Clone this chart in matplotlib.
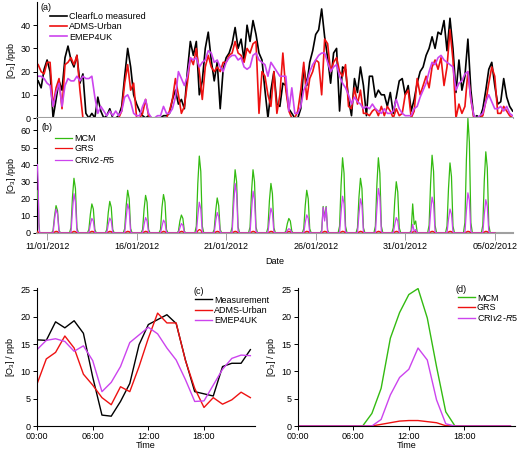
import numpy as np
import pandas as pd
import matplotlib.pyplot as plt
import matplotlib.dates as mdates

plt.rcParams['font.family'] = ['Liberation Sans', 'DejaVu Sans']
plt.rcParams['mathtext.fontset'] = 'custom'
plt.rcParams['mathtext.rm'] = 'Liberation Sans'
plt.rcParams['mathtext.it'] = 'Liberation Sans:italic'
plt.rcParams['font.size'] = 6.5

BLACK = '#000000'
RED = '#ee1111'
MAGENTA = '#cc44ee'
GREEN = '#33bb11'
GREY = '#a0a0a0'

# (a) 4-hourly ozone, starting 10/01/2012 12:00
start_a = '2012-01-10 12:00'
measured = [16, 13, 21, 25, 20, 0, 8, 16, 12, 26, 31, 25, 22, 27, 15, 19, 2, 0, 2, 0,
            9, 3, 0, 1, 4, 0, 0, 1, 5, 18, 30, 22, 10, 6, 3, 1, 0, 1, 0, 0,
            0, 0, 1, 1, 2, 8, 12, 6, 8, 4, 20, 33, 27, 33, 10, 16, 30, 37, 25, 16,
            24, 4, 21, 26, 28, 32, 39, 30, 34, 25, 40, 33, 42, 36, 28, 25, 12, 0, 12, 20,
            6, 5, 15, 14, 4, 2, 0, 0, 4, 22, 14, 24, 29, 36, 38, 47, 35, 26, 15, 28,
            30, 3, 22, 21, 8, 1, 17, 11, 22, 14, 1, 18, 18, 9, 12, 10, 10, 5, 11, 2,
            9, 16, 17, 10, 14, 3, 8, 15, 20, 22, 27, 30, 35, 30, 37, 36, 42, 29, 43, 30,
            11, 25, 12, 18, 34, 12, 0, 1, 0, 4, 12, 21, 24, 14, 6, 7, 17, 9, 5, 3]
adms = [23, 20, 19, 24, 24, 5, 13, 17, 4, 23, 24, 26, 23, 27, 12, 0, 0, 0, 0, 0,
        0, 0, 0, 0, 0, 0, 0, 0, 3, 15, 23, 12, 15, 0, 0, 2, 8, 1, 0, 0,
        0, 0, 0, 0, 3, 8, 17, 10, 2, 5, 15, 26, 23, 30, 20, 8, 22, 27, 22, 20,
        22, 20, 24, 24, 27, 28, 33, 28, 27, 24, 30, 28, 32, 33, 2, 20, 18, 10, 5, 20,
        2, 10, 28, 12, 3, 0, 0, 3, 12, 24, 8, 17, 20, 25, 24, 10, 34, 32, 20, 24,
        26, 20, 18, 23, 5, 4, 13, 6, 12, 2, 2, 1, 3, 4, 1, 5, 1, 5, 3, 0,
        4, 1, 2, 10, 12, 0, 3, 17, 10, 14, 18, 13, 22, 25, 21, 26, 14, 22, 38, 25,
        0, 6, 2, 5, 20, 8, 0, 0, 0, 1, 7, 15, 22, 18, 2, 2, 5, 3, 1, 0]
emep = [18, 18, 17, 15, 14, 5, 11, 15, 5, 14, 17, 16, 16, 18, 16, 18, 17, 17, 18, 9,
        2, 5, 3, 1, 3, 1, 3, 1, 3, 9, 10, 7, 2, 1, 1, 5, 8, 2, 0, 0,
        1, 1, 5, 2, 2, 4, 9, 20, 17, 14, 18, 26, 25, 26, 22, 24, 25, 29, 28, 24,
        25, 22, 20, 24, 26, 27, 27, 25, 26, 22, 21, 22, 27, 28, 25, 24, 23, 18, 24, 22,
        20, 18, 18, 18, 3, 13, 2, 2, 5, 12, 15, 20, 23, 25, 27, 28, 28, 24, 20, 22,
        23, 18, 15, 13, 10, 6, 9, 7, 6, 4, 5, 4, 6, 4, 3, 2, 4, 2, 2, 3,
        8, 4, 2, 1, 1, 1, 4, 5, 9, 12, 15, 20, 24, 23, 26, 27, 25, 24, 23, 22,
        12, 15, 16, 19, 20, 8, 1, 0, 1, 2, 7, 10, 7, 4, 4, 5, 3, 5, 2, 1]

# (b) model start-up on 10/01 (hours), then daytime values 08,10,12,14,16 h per day
spin_hours = [11, 12, 13, 14]
mcm_spin = [20, 25, 6, 0]
grs_spin = [1, 0.5, 0, 0]
cri_spin = [40, 30, 5, 0]
day_hours = [8, 10, 12, 14, 16]
days_b = pd.date_range('2012-01-11', '2012-02-04', freq='D')
mcm_day = [[1.5, 10, 16, 13, 1.5], [3, 21, 32, 26, 3], [2, 11, 17, 14, 2],
           [2, 12, 18.5, 15, 2], [2.5, 16, 25, 20, 2.5], [2, 14, 22, 18, 2],
           [2, 15, 22.5, 18, 2], [1, 7, 10.5, 8.5, 1], [4, 29, 45, 36, 4],
           [2, 13, 20.5, 16, 2], [3.5, 24, 37, 30, 3.5], [3.5, 24, 37, 30, 3.5],
           [3, 19, 29, 23, 3], [1, 5.5, 8.5, 7, 1], [2.5, 16, 25, 20, 2.5],
           [1.5, 15.5, 9, 15.5, 1.5], [4, 28, 44, 35, 4], [3, 21, 32, 26, 3],
           [4, 28, 44, 35, 4], [3, 19, 30, 24, 3], [1.5, 17, 5, 7, 0.5],
           [4.5, 29, 45.5, 36, 4.5], [4, 26, 41, 33, 4], [6, 43, 67, 53, 6],
           [4.5, 31, 47.5, 38, 4.5]]
grs_day = [[0, 0.6, 1, 0.8, 0]] * 8 + [[0, 1.2, 2, 1.6, 0]] + [[0, 0.6, 1, 0.8, 0]] * 16
cri_day = [[0, 8, 14, 11, 0.5], [0, 13, 23, 18, 1], [0, 5, 8.5, 7, 0.3],
           [0, 5, 8.7, 7, 0.3], [0, 9, 17, 13.5, 0.5], [0, 5, 9, 7, 0.3],
           [0, 4, 7.5, 6, 0.3], [0, 3, 5.5, 4.5, 0.2], [0, 10, 18, 14, 0.5],
           [0, 7, 12, 9.5, 0.4], [0, 16, 29, 23, 1], [0, 13, 24.5, 19.5, 1],
           [0, 8, 14.5, 11.5, 0.5], [0, 1.5, 2.5, 2, 0], [0, 6, 10.6, 8.5, 0.4],
           [0, 15, 7, 15, 0.5], [0, 12, 21.5, 17, 0.7], [0, 11, 20, 16, 0.7],
           [0, 14, 26, 21, 0.8], [0, 5, 9, 7, 0.3], [0, 5, 1, 2, 0],
           [0, 12, 21, 17, 0.7], [0, 8, 14, 11, 0.5], [0, 13, 23.5, 19, 0.8],
           [0, 11, 19.5, 15.5, 0.6]]

# (c), (d) mean diurnal cycles
hours = list(range(24))
meas_diurnal = [15.8, 15.7, 19.1, 18.0, 19.3, 17.0, 9.0, 2.0, 1.8, 4.5, 7.8, 14.9,
                18.6, 19.5, 20.4, 18.8, 12.1, 6.3, 5.9, 5.5, 10.9, 11.5, 11.5, 14.0]
adms_diurnal = [7.7, 12.3, 13.5, 16.5, 14.3, 9.5, 7.5, 5.2, 3.9, 7.2, 6.3, 10.9,
                16.1, 20.7, 18.9, 18.9, 12.0, 6.9, 3.4, 5.2, 4.0, 4.8, 6.2, 5.2]
emep_diurnal = [14.0, 15.7, 16.0, 15.5, 13.7, 14.7, 12.0, 6.3, 8.0, 10.9, 15.3, 16.7,
                18.1, 16.9, 14.3, 12.1, 8.5, 4.5, 4.6, 7.5, 10.4, 12.4, 13.0, 12.9]
mcm_diurnal = [0, 0, 0, 0, 0, 0, 0, 0, 2.3, 6.9, 16.1, 20.8,
               24.1, 25.2, 19.8, 10.9, 2.6, 0, 0, 0, 0, 0, 0, 0]
grs_diurnal = [0, 0, 0, 0, 0, 0, 0, 0, 0, 0.3, 0.6, 0.9,
               1.0, 1.0, 0.8, 0.6, 0.05, 0, 0, 0, 0, 0, 0, 0]
cri_diurnal = [0, 0, 0, 0, 0, 0, 0, 0, 0, 1.2, 5.7, 8.9,
               10.4, 14.3, 12.1, 4.8, 0.4, 0, 0, 0, 0, 0, 0, 0]


def build_series(spin, daily):
    t = [pd.Timestamp('2012-01-10') + pd.Timedelta(hours=h) for h in spin_hours]
    v = list(spin)
    for day, vals in zip(days_b, daily):
        t.append(day + pd.Timedelta(hours=6))
        v.append(0)
        for h, y in zip(day_hours, vals):
            t.append(day + pd.Timedelta(hours=h))
            v.append(y)
        t.append(day + pd.Timedelta(hours=18))
        v.append(0)
    t.append(pd.Timestamp('2012-02-05'))
    v.append(0)
    return t, v


def style_axes(ax, bottom_color):
    ax.spines['top'].set_visible(False)
    ax.spines['right'].set_visible(False)
    ax.spines['left'].set_linewidth(0.8)
    ax.spines['bottom'].set_color(bottom_color)
    ax.tick_params(direction='out', length=3, width=0.7, pad=1.5)


df_a = pd.DataFrame({'ClearfLo measured': measured, 'ADMS-Urban': adms, 'EMEP4UK': emep},
                    index=pd.date_range(start_a, periods=len(measured), freq='4h'))

fig = plt.figure(figsize=(5.2, 4.53), dpi=100)
ax_a = fig.add_axes([0.0712, 0.7395, 0.9154, 0.2561])
ax_b = fig.add_axes([0.0712, 0.4857, 0.9154, 0.2539])
ax_c = fig.add_axes([0.0712, 0.0596, 0.4192, 0.3046])
ax_d = fig.add_axes([0.5731, 0.0596, 0.4173, 0.3046])

xlim = (pd.Timestamp('2012-01-10 10:30'), pd.Timestamp('2012-02-06 00:30'))

# (a)
for col, c in zip(df_a.columns, [BLACK, RED, MAGENTA]):
    ax_a.plot(df_a.index, df_a[col], color=c, lw=1.2, label=col)
ax_a.set_xlim(xlim)
ax_a.set_ylim(0, 50)
ax_a.set_yticks([0, 10, 20, 30, 40])
style_axes(ax_a, GREY)
ax_a.spines['bottom'].set_linewidth(1.5)
ax_a.tick_params(axis='x', bottom=False, labelbottom=False)
ax_a.set_ylabel('[O$_3$] /ppb', labelpad=2)
ax_a.text(0.008, 0.95, '(a)', transform=ax_a.transAxes, va='center')
ax_a.legend(loc='upper left', bbox_to_anchor=(0.027, 0.915), frameon=False,
            handlelength=1.9, handletextpad=0.2, labelspacing=0.15,
            borderaxespad=0, borderpad=0)

# (b)
for (spin, daily), c, lab in zip([(mcm_spin, mcm_day), (grs_spin, grs_day), (cri_spin, cri_day)],
                                 [GREEN, RED, MAGENTA], ['MCM', 'GRS', 'CRI$\\it{v2}$-$\\it{R5}$']):
    t, v = build_series(spin, daily)
    ax_b.plot(t, v, color=c, lw=0.9, label=lab, zorder=3)
ax_b.set_xlim(xlim)
ax_b.set_ylim(0, 67.3)
ax_b.set_yticks([0, 10, 20, 30, 40, 50, 60])
style_axes(ax_b, GREY)
ax_b.spines['bottom'].set_linewidth(1.5)
ax_b.set_xticks(pd.date_range('2012-01-11', periods=6, freq='5D'))
ax_b.xaxis.set_major_formatter(mdates.DateFormatter('%d/%m/%Y'))
ax_b.tick_params(axis='x', color=GREY, length=5)
ax_b.set_xlabel('Date', labelpad=4)
ax_b.set_ylabel('[O$_3$] /ppb', labelpad=2)
ax_b.text(0.01, 0.913, '(b)', transform=ax_b.transAxes, va='center')
ax_b.legend(loc='upper left', bbox_to_anchor=(0.038, 0.86), frameon=False,
            handlelength=1.9, handletextpad=0.2, labelspacing=0.15,
            borderaxespad=0, borderpad=0)

# (c)
ax_c.plot(hours, meas_diurnal, color=BLACK, lw=1.0, label='Measurement')
ax_c.plot(hours, adms_diurnal, color=RED, lw=1.0, label='ADMS-Urban')
ax_c.plot(hours, emep_diurnal, color=MAGENTA, lw=1.0, label='EMEP4UK')
ax_c.text(0.716, 0.975, '(c)', transform=ax_c.transAxes, va='center')
ax_c.legend(loc='upper left', bbox_to_anchor=(0.725, 0.945), frameon=False,
            handlelength=1.9, handletextpad=0.2, labelspacing=0.15,
            borderaxespad=0, borderpad=0)

# (d)
ax_d.plot(hours, mcm_diurnal, color=GREEN, lw=1.0, label='MCM')
ax_d.plot(hours, grs_diurnal, color=RED, lw=1.0, label='GRS')
ax_d.plot(hours, cri_diurnal, color=MAGENTA, lw=1.0, label='CRI$\\it{v2}$-$\\it{R5}$')
ax_d.text(0.728, 0.99, '(d)', transform=ax_d.transAxes, va='center')
ax_d.legend(loc='upper left', bbox_to_anchor=(0.737, 0.96), frameon=False,
            handlelength=1.9, handletextpad=0.2, labelspacing=0.1,
            borderaxespad=0, borderpad=0)

for ax in (ax_c, ax_d):
    ax.set_xlim(0, 23.5)
    ax.set_ylim(0, 25.3)
    ax.set_yticks([0, 5, 10, 15, 20, 25])
    ax.set_xticks([0, 6, 12, 18])
    ax.set_xticklabels(['00:00', '06:00', '12:00', '18:00'])
    style_axes(ax, BLACK)
    ax.spines['bottom'].set_linewidth(0.8)
    ax.set_xlabel('Time', labelpad=0)
    ax.set_ylabel('[O$_3$] / ppb', labelpad=3)

fig.savefig('out.png', dpi=100)
